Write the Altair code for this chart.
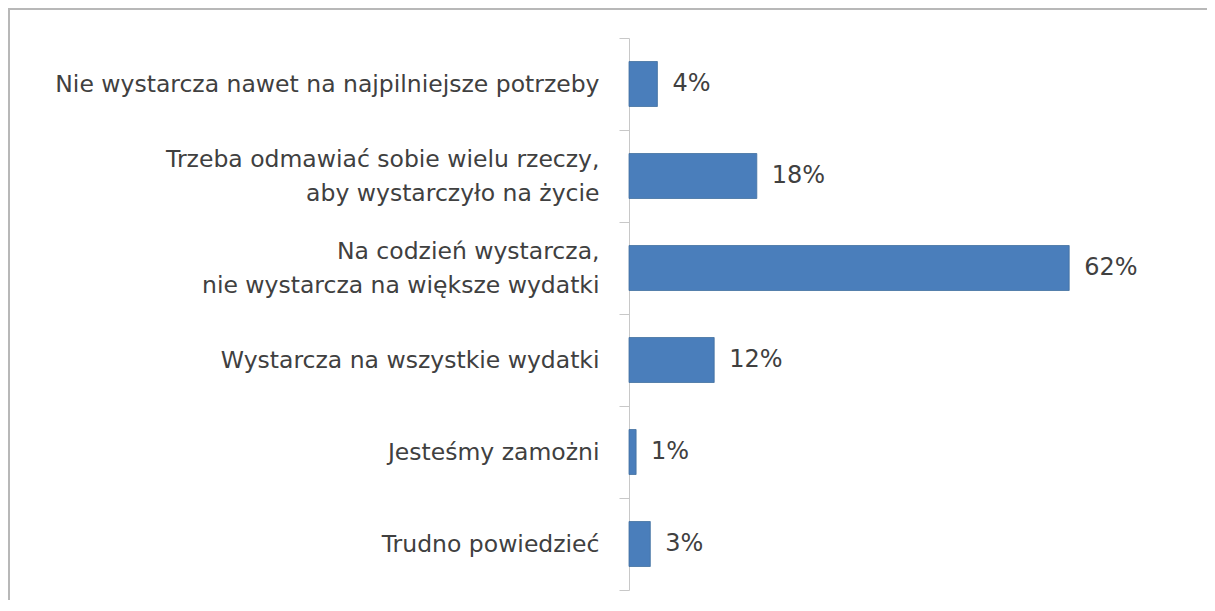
import altair as alt
import pandas as pd

categories = [
    "Nie wystarcza nawet na najpilniejsze potrzeby",
    "Trzeba odmawiać sobie wielu rzeczy,|aby wystarczyło na życie",
    "Na codzień wystarcza,|nie wystarcza na większe wydatki",
    "Wystarcza na wszystkie wydatki",
    "Jesteśmy zamożni",
    "Trudno powiedzieć",
]
values = [4, 18, 62, 12, 1, 3]
labels = ["4%", "18%", "62%", "12%", "1%", "3%"]

df = pd.DataFrame({"cat": categories, "val": values, "lab": labels})

W = 568
H = 552
FONT = "DejaVu Sans"
TXT = "#404040"

y_enc = alt.Y(
    "cat:N",
    sort=categories,
    title=None,
    scale=alt.Scale(paddingInner=0, paddingOuter=0),
    axis=alt.Axis(
        labelExpr="datum.value ? split(datum.value, '|') : ''",
        labelFont=FONT,
        labelFontSize=23.5,
        labelColor=TXT,
        labelLineHeight=34,
        labelPadding=20,
        labelLimit=700,
        labelOffset={
            "condition": {
                "test": "isString(datum.value) && indexof(datum.value, '|') >= 0",
                "value": -17,
            },
            "value": 0,
        },
        tickBand="extent",
        tickSize=10,
        tickColor="#c8c8c8",
        domainColor="#c8c8c8",
        tickWidth=1,
        domainWidth=1,
    ),
)

x_enc = alt.X(
    "val:Q",
    scale=alt.Scale(domain=[0, 80], nice=False),
    axis=None,
)

bars = alt.Chart(df).mark_bar(
    color="#4a7ebb", stroke="#41709f", strokeWidth=0.8, size=45,
).encode(y=y_enc, x=x_enc)

text = alt.Chart(df).mark_text(
    align="left", baseline="middle", dx=15, font=FONT, fontSize=24, color=TXT
).encode(y=alt.Y("cat:N", sort=categories), x="val:Q", text="lab:N")

frame_top = alt.Chart(df).mark_rule(color="#b8b8b8", strokeWidth=1.5, clip=False).encode(
    x=alt.value(-621), x2=alt.value(W + 10), y=alt.value(-29)
)
frame_left = alt.Chart(df).mark_rule(color="#b8b8b8", strokeWidth=1.5, clip=False).encode(
    x=alt.value(-620), y=alt.value(-29), y2=alt.value(H + 30)
)

chart = (
    alt.layer(frame_top, frame_left, bars, text)
    .properties(
        width=W,
        height=H,
        background="white",
        autosize=alt.AutoSizeParams(type="none"),
        padding={"left": 621, "top": 30, "right": 10, "bottom": 10},
    )
    .configure_view(strokeWidth=0, stroke="transparent")
)

chart.save("out.html", embed_options={"renderer": "svg", "actions": False})
